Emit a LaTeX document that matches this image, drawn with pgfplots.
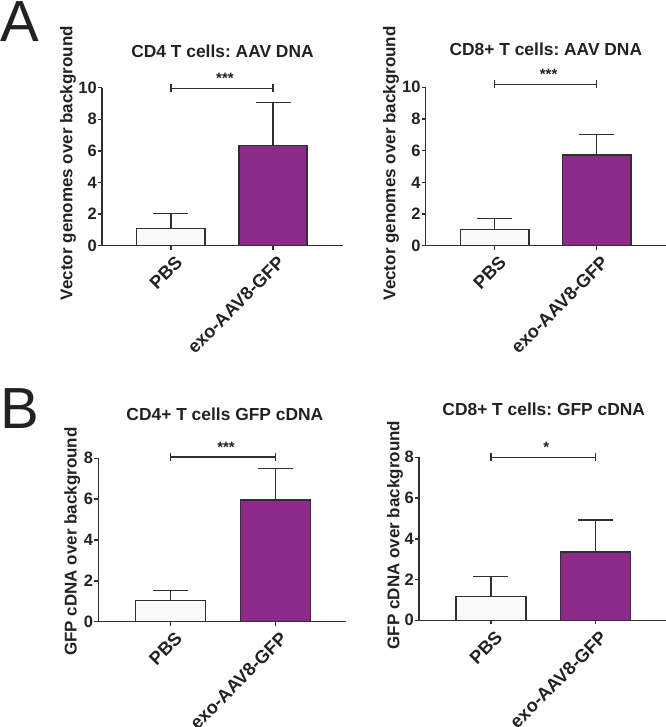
\documentclass[border=0pt]{standalone}
\usepackage{pgfplots}
\pgfplotsset{compat=1.18}
\usepackage{fontspec}
\setmainfont{Liberation Sans}
\frenchspacing
\definecolor{txt}{HTML}{222222}
\definecolor{edge}{HTML}{303030}
\definecolor{purp}{RGB}{139,42,137}
\definecolor{pbs}{HTML}{FAFAFA}
\newcommand{\xtl}{\fontsize{18.2bp}{21bp}\selectfont\bfseries}
\pgfplotsset{
  panel/.style={
    scale only axis, anchor=south west, clip=false,
    axis x line=bottom, axis y line=left,
    axis line style={-, line width=1.4bp, edge},
    every tick/.style={line width=1.4bp, edge},
    tick align=outside, major tick length=4bp,
    ymin=0, xtick={0,1}, xticklabels={{\xtl PBS}, {\xtl exo-AAV8-GFP}},
    /pgf/number format/assume math mode=true,
    tick label style={font=\fontsize{16.5bp}{19bp}\selectfont\bfseries, text=txt},
    yticklabel style={inner sep=1bp},
    xticklabel style={font=\xtl, rotate=45, anchor=base east, inner sep=0pt, yshift=-19bp, xshift=-1bp},
    label style={font=\fontsize{17bp}{20bp}\selectfont\bfseries, text=txt},
    ylabel style={anchor=center},
    title style={font=\fontsize{17.4bp}{20bp}\selectfont\bfseries, text=txt, anchor=center},
    ybar, bar width=0.67, bar shift=0pt,
    error bars/error bar style={line width=1.4bp, edge},
    error bars/error mark options={rotate=90, mark size=17.5bp, line width=1.4bp, edge},
  },
  pbsbar/.style={fill=pbs, draw=edge, line width=1.4bp,
    error bars/.cd, y dir=plus, y explicit},
  exobar/.style={fill=purp, draw=edge, line width=1.4bp,
    error bars/.cd, y dir=plus, y explicit},
}
\newcommand{\sig}[2]{%
  \draw[edge, line width=1.4bp] (axis cs:0,#1) -- (axis cs:1,#1);
  \draw[edge, line width=1.4bp] ([yshift=-4bp]axis cs:0,#1) -- ([yshift=4bp]axis cs:0,#1);
  \draw[edge, line width=1.4bp] ([yshift=-4bp]axis cs:1,#1) -- ([yshift=4bp]axis cs:1,#1);
  \node[anchor=center, inner sep=0pt, text=txt, font=\fontsize{15bp}{17bp}\selectfont\bfseries] at ([yshift=10bp, xshift=3bp]axis cs:0.5,#1) {#2};
}
\begin{document}
\begin{tikzpicture}
\useasboundingbox (0,0) rectangle (666bp,-727bp);
\node[anchor=north west, inner sep=0pt, text=txt, font=\fontsize{58bp}{60bp}\selectfont] at (0bp,-1.5bp) {A};
\node[anchor=north west, inner sep=0pt, text=txt, font=\fontsize{58bp}{60bp}\selectfont] at (0bp,-388bp) {B};

% A left
\begin{axis}[panel, at={(102bp,-245.7bp)}, width=241bp, height=158bp,
  xmin=-0.676, xmax=1.686, ymax=10, ytick={0,2,4,6,8,10},
  title={CD4 T cells: AAV DNA}, title style={at={(axis description cs:0.5,1.19)}},
  ylabel={Vector genomes over background}, ylabel style={at={(axis description cs:-0.141,0.523)}}]
\addplot[pbsbar] coordinates {(0,1.1) +- (0,0.93)};
\addplot[exobar] coordinates {(1,6.35) +- (0,2.70)};
\sig{9.96}{***}
\end{axis}

% A right
\begin{axis}[panel, at={(425.7bp,-245.7bp)}, width=240.3bp, height=158.4bp,
  xmin=-0.676, xmax=1.68, ymax=10, ytick={0,2,4,6,8,10},
  title={CD8+ T cells: AAV DNA}, title style={at={(axis description cs:0.5,1.20)}},
  ylabel={Vector genomes over background}, ylabel style={at={(axis description cs:-0.144,0.52)}}]
\addplot[pbsbar] coordinates {(0,1.04) +- (0,0.69)};
\addplot[exobar] coordinates {(1,5.72) +- (0,1.31)};
\sig{10.19}{***}
\end{axis}

% B left
\begin{axis}[panel, at={(98.3bp,-621.7bp)}, width=247.7bp, height=163.4bp,
  xmin=-0.688, xmax=1.671, ymax=8, ytick={0,2,4,6,8},
  title={CD4+ T cells GFP cDNA}, title style={at={(axis description cs:0.511,1.231)}},
  ylabel={GFP cDNA over background}, ylabel style={at={(axis description cs:-0.105,0.49)}}]
\addplot[pbsbar] coordinates {(0,1.03) +- (0,0.49)};
\addplot[exobar] coordinates {(1,5.96) +- (0,1.54)};
\sig{8.06}{***}
\end{axis}

% B right
\begin{axis}[panel, at={(419bp,-620.3bp)}, width=247bp, height=163bp,
  xmin=-0.689, xmax=1.675, ymax=8, ytick={0,2,4,6,8},
  title={CD8+ T cells: GFP cDNA}, title style={at={(axis description cs:0.505,1.26)}},
  ylabel={GFP cDNA over background}, ylabel style={at={(axis description cs:-0.097,0.523)}}]
\addplot[pbsbar] coordinates {(0,1.17) +- (0,0.99)};
\addplot[exobar] coordinates {(1,3.35) +- (0,1.58)};
\sig{8.0}{*}
\end{axis}
\end{tikzpicture}
\end{document}
